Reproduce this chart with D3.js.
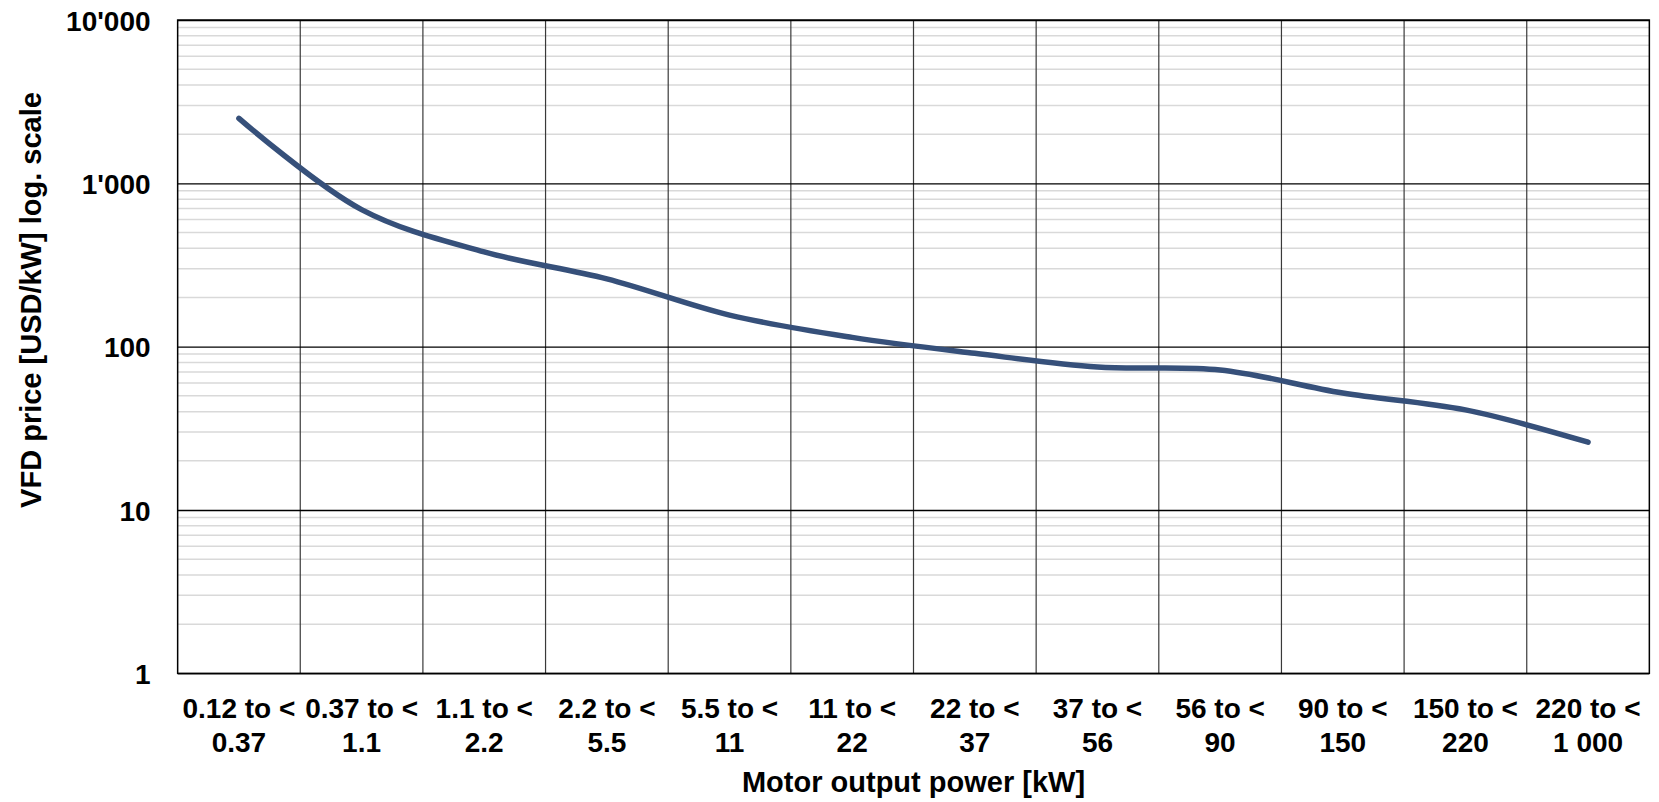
<!DOCTYPE html>
<html>
<head>
<meta charset="utf-8">
<script src="https://cdn.jsdelivr.net/npm/d3@7"></script>
<style>
  body { margin: 0; background: #fff; }
  text { font-family: "Liberation Sans", Arial, sans-serif; font-weight: bold; fill: #000; }
</style>
</head>
<body>
<script>
// power classes (kW), lower and upper bound of each band
var lowerBounds = ["0.12", "0.37", "1.1", "2.2", "5.5", "11", "22", "37", "56", "90", "150", "220"];
var upperBounds = ["0.37", "1.1", "2.2", "5.5", "11", "22", "37", "56", "90", "150", "220", "1 000"];
// VFD price, USD per kW
var prices = [2500, 690, 380, 260, 156, 114, 91, 75, 72, 52, 41, 26];
var yTicks = [1, 10, 100, 1000, 10000];

var W = 1659, H = 802;
var plotL = 177.6, plotR = 1649.4, plotT = 20, plotB = 673.3;

var svg = d3.select("body").append("svg").attr("width", W).attr("height", H);

var x = d3.scaleBand().domain(lowerBounds).range([plotL, plotR]).padding(0);
var y = d3.scaleLog().domain([1, 10000]).range([plotB, plotT]);

// minor gridlines 2..9 in every decade
var minor = [];
[1, 10, 100, 1000].forEach(function(d) {
  for (var m = 2; m <= 9; m++) minor.push(d * m);
});
svg.append("g").selectAll("line").data(minor).enter().append("line")
  .attr("x1", plotL).attr("x2", plotR)
  .attr("y1", function(d) { return y(d); }).attr("y2", function(d) { return y(d); })
  .style("stroke", "#d9d9d9").style("stroke-width", 1.5);

// band borders
var edges = lowerBounds.map(function(c) { return x(c); }).concat([plotR]);
svg.append("g").selectAll("line").data(edges).enter().append("line")
  .attr("x1", function(d) { return d; }).attr("x2", function(d) { return d; })
  .attr("y1", plotT).attr("y2", plotB)
  .style("stroke", "#3a3a3a").style("stroke-width", 1.2);

// y axis with major gridlines
var fmt = d3.format(",");
var yAxis = svg.append("g").attr("transform", "translate(" + plotL + ",0)")
  .call(d3.axisLeft(y).tickValues(yTicks).tickSize(-(plotR - plotL)).tickPadding(27)
    .tickFormat(function(d) { return fmt(d).replace(/,/g, "'"); }));
yAxis.select(".domain").remove();
yAxis.selectAll(".tick line").style("stroke", "#000").style("stroke-width", 1.4);
yAxis.selectAll(".tick text").style("font-size", "28px").attr("dy", "0.36em");

// frame
svg.append("rect").attr("x", plotL).attr("y", plotT)
  .attr("width", plotR - plotL).attr("height", plotB - plotT)
  .style("fill", "none").style("stroke", "#000").style("stroke-width", 1.4);

// x axis labels on two lines
var xAxis = svg.append("g").attr("transform", "translate(0," + plotB + ")")
  .call(d3.axisBottom(x).tickSize(0).tickFormat(""));
xAxis.select(".domain").remove();
xAxis.selectAll(".tick text").remove();
xAxis.selectAll(".tick").each(function(d, i) {
  var t = d3.select(this).append("text").attr("text-anchor", "middle").style("font-size", "28px");
  t.append("tspan").attr("x", 0).attr("y", 44.4).text(d + " to <");
  t.append("tspan").attr("x", 0).attr("y", 78.4).text(upperBounds[i]);
});

// price curve
var line = d3.line()
  .x(function(d, i) { return x(lowerBounds[i]) + x.bandwidth() / 2; })
  .y(function(d) { return y(d); })
  .curve(d3.curveCatmullRom.alpha(0.5));
svg.append("path").datum(prices)
  .attr("d", line)
  .style("fill", "none").style("stroke", "#36507a")
  .style("stroke-width", 5.5).style("stroke-linecap", "round").style("stroke-linejoin", "round");

// axis titles
svg.append("text").attr("x", (plotL + plotR) / 2).attr("y", 792)
  .attr("text-anchor", "middle").style("font-size", "29px")
  .text("Motor output power [kW]");
svg.append("text").attr("transform", "translate(41,300) rotate(-90)")
  .attr("text-anchor", "middle").style("font-size", "29px")
  .text("VFD price [USD/kW] log. scale");
</script>
</body>
</html>
